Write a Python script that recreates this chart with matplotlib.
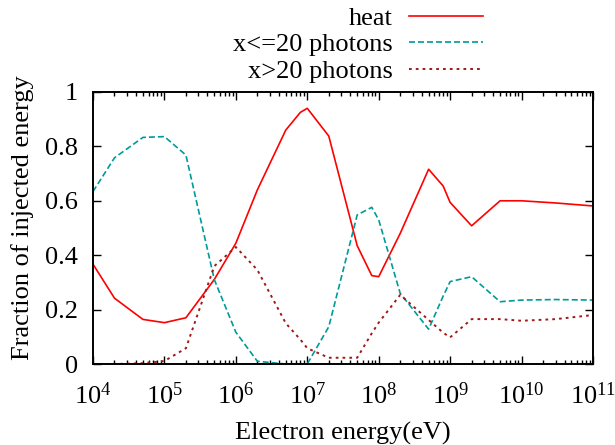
import numpy as np
import matplotlib
matplotlib.use("Agg")
import matplotlib.pyplot as plt
from matplotlib.ticker import LogLocator, NullFormatter, FixedLocator

plt.rcParams['font.family'] = ['Liberation Serif', 'DejaVu Serif']
plt.rcParams['mathtext.fontset'] = 'custom'
plt.rcParams['mathtext.rm'] = 'Liberation Serif'
plt.rcParams['mathtext.it'] = 'Liberation Serif:italic'

energy = [1e4, 2e4, 5e4, 1e5, 2e5, 5e5, 1e6, 2e6, 5e6, 8e6, 1e7, 2e7, 5e7, 8e7,
          1e8, 2e8, 5e8, 8e8, 1e9, 2e9, 5e9, 1e10, 3e10, 1e11]
heat = [0.367, 0.242, 0.164, 0.152, 0.170, 0.311, 0.444, 0.64, 0.86, 0.925, 0.94, 0.838,
        0.435, 0.325, 0.321, 0.48, 0.716, 0.654, 0.594, 0.508, 0.600, 0.600, 0.592, 0.581]
low_photons = [0.634, 0.758, 0.833, 0.836, 0.768, 0.31, 0.117, 0.01, 0.0, 0.0, 0.0, 0.137,
               0.548, 0.576, 0.53, 0.26, 0.128, 0.25, 0.303, 0.321, 0.229, 0.235, 0.237, 0.235]
high_photons = [0.0, 0.0, 0.003, 0.011, 0.058, 0.36, 0.43, 0.346, 0.15, 0.09, 0.058, 0.023,
                0.023, 0.113, 0.152, 0.254, 0.162, 0.115, 0.098, 0.165, 0.165, 0.159, 0.165, 0.18]

FS = 19

fig = plt.figure(figsize=(6.15, 4.45), dpi=100)
ax = fig.add_axes([0.1512, 0.182, 0.813, 0.6113])

ax.plot(energy, heat, color='#ff0000', lw=1.2, label='heat')
ax.plot(energy, low_photons, color='#009a9a', lw=1.2, ls=(0, (3.6, 1.8)), label='x<=20 photons')
ax.plot(energy, high_photons, color='#a01818', lw=1.4, ls=(0, (1.4, 2.1)), label='x>20 photons')

ax.set_xscale('log')
ax.set_xlim(1e4, 1e11)
ax.set_ylim(0, 1)
ax.xaxis.set_major_locator(LogLocator(base=10, numticks=20))
ax.xaxis.set_minor_locator(LogLocator(base=10, subs=np.arange(2, 10), numticks=20))
ax.xaxis.set_minor_formatter(NullFormatter())
ax.yaxis.set_major_locator(FixedLocator([0, 0.2, 0.4, 0.6, 0.8, 1.0]))
ax.set_yticklabels(['0', '0.2', '0.4', '0.6', '0.8', '1'])

ax.tick_params(which='both', direction='in', top=True, right=True, labelsize=FS, width=1)
ax.tick_params(axis='x', which='major', length=6, pad=13)
ax.tick_params(axis='x', which='minor', length=3)
ax.tick_params(axis='y', which='major', length=6, pad=11)
for s in ax.spines.values():
    s.set_linewidth(1.4)

ax.set_xlabel('Electron energy(eV)', fontsize=FS)
ax.xaxis.set_label_coords(0.5, -0.211)
ax.set_ylabel('Fraction of injected energy', fontsize=FS)
ax.yaxis.set_label_coords(-0.118, 0.537)

leg = ax.legend(loc='upper right', bbox_to_anchor=(0.78, 1.314), markerfirst=False,
                frameon=False, fontsize=FS, handlelength=2.8, handletextpad=0.62,
                labelspacing=0.11, borderpad=0, borderaxespad=0)

fig.savefig('out.png', dpi=100)
